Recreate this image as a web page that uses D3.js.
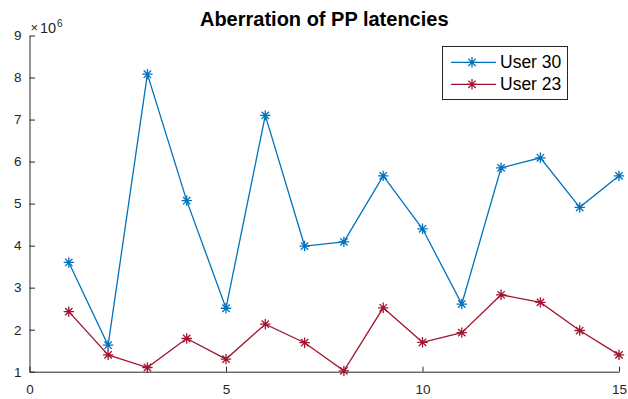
<!DOCTYPE html>
<html>
<head>
<meta charset="utf-8">
<script src="https://cdn.jsdelivr.net/npm/d3@7"></script>
<style>
  html, body { margin: 0; padding: 0; background: #fff; }
  svg { display: block; font-family: "Liberation Sans", Arial, Helvetica, sans-serif; }
</style>
</head>
<body>
<svg id="chart" width="628" height="399"></svg>
<script>
// Sample index along the x axis
const samples = d3.range(1, 16);
// Latency aberration per sample, in units of 1e6
const user30 = [3.60, 1.63, 8.08, 5.07, 2.51, 7.10, 3.99, 4.09, 5.66, 4.40, 2.61, 5.85, 6.09, 4.91, 5.66];
const user23 = [2.43, 1.40, 1.10, 1.79, 1.30, 2.13, 1.69, 1.02, 2.52, 1.70, 1.93, 2.83, 2.65, 1.98, 1.40];
const seriesNames = ["User 30", "User 23"];
const seriesColors = ["#0072BD", "#A2142F"];
const xTicks = [0, 5, 10, 15];
const yTicks = [1, 2, 3, 4, 5, 6, 7, 8, 9];
const titleText = "Aberration of PP latencies";

const svg = d3.select("#chart");
const axisColor = "#262626";

const x = d3.scaleLinear().domain([0, 15]).range([29.5, 619]);
const y = d3.scaleLinear().domain([1, 9]).range([371.7, 35.5]);

// Axes (left and bottom only, ticks pointing inward)
const xAxis = svg.append("g")
  .attr("transform", `translate(0,${y(1)})`)
  .call(d3.axisBottom(x).tickValues(xTicks).tickSizeInner(-5).tickSizeOuter(0).tickPadding(13));
const yAxis = svg.append("g")
  .attr("transform", `translate(${x(0)},0)`)
  .call(d3.axisLeft(y).tickValues(yTicks).tickSizeInner(-5.5).tickSizeOuter(0).tickPadding(8));

[xAxis, yAxis].forEach(g => {
  g.select(".domain").attr("stroke", axisColor).attr("stroke-width", 1);
  g.selectAll(".tick line").attr("stroke", axisColor).attr("stroke-width", 1);
  g.selectAll(".tick text").attr("fill", axisColor)
    .style("font-size", "13.5px")
    .style("font-family", '"Liberation Sans", Arial, sans-serif');
});

// Exponent label above the y axis
svg.append("text")
  .attr("x", 30.5).attr("y", 32)
  .attr("fill", axisColor)
  .style("font-size", "13px")
  .text("\u00D7");
svg.append("text")
  .attr("x", 40).attr("y", 32.5)
  .attr("fill", axisColor)
  .style("font-size", "14.5px")
  .text("10");
svg.append("text")
  .attr("x", 57).attr("y", 26.5)
  .attr("fill", axisColor)
  .style("font-size", "10px")
  .text("6");

// Title
svg.append("text")
  .attr("x", (x(0) + x(15)) / 2)
  .attr("y", 26)
  .attr("text-anchor", "middle")
  .style("font-size", "20px")
  .style("font-weight", "bold")
  .attr("fill", "#000")
  .text(titleText);

// Asterisk marker: a plus overlaid with a cross
function asterisk(g, cx, cy, r, color) {
  const d = r * Math.SQRT1_2;
  const path = `M${cx - r},${cy}L${cx + r},${cy}M${cx},${cy - r}L${cx},${cy + r}` +
    `M${cx - d},${cy - d}L${cx + d},${cy + d}M${cx - d},${cy + d}L${cx + d},${cy - d}`;
  g.append("path").attr("d", path).attr("stroke", color).attr("stroke-width", 1.3).attr("fill", "none");
}

const allSeries = [user30, user23];
const line = d3.line().x((d, i) => x(samples[i])).y(d => y(d));

allSeries.forEach((vals, k) => {
  const g = svg.append("g");
  g.append("path")
    .datum(vals)
    .attr("d", line)
    .attr("fill", "none")
    .attr("stroke", seriesColors[k])
    .attr("stroke-width", 1.3);
  vals.forEach((v, i) => asterisk(g, x(samples[i]), y(v), 5.2, seriesColors[k]));
});

// Legend
const legend = svg.append("g");
legend.append("rect")
  .attr("x", 442.5).attr("y", 46.5)
  .attr("width", 125).attr("height", 53)
  .attr("fill", "#fff").attr("stroke", axisColor).attr("stroke-width", 1);
seriesNames.forEach((name, k) => {
  const ly = 62.3 + k * 22;
  legend.append("line")
    .attr("x1", 451).attr("x2", 496).attr("y1", ly).attr("y2", ly)
    .attr("stroke", seriesColors[k]).attr("stroke-width", 1.3);
  asterisk(legend, 472, ly, 5.2, seriesColors[k]);
  legend.append("text")
    .attr("x", 500).attr("y", ly + 6)
    .style("font-size", "17.5px")
    .attr("fill", "#000")
    .text(name);
});
</script>
</body>
</html>
